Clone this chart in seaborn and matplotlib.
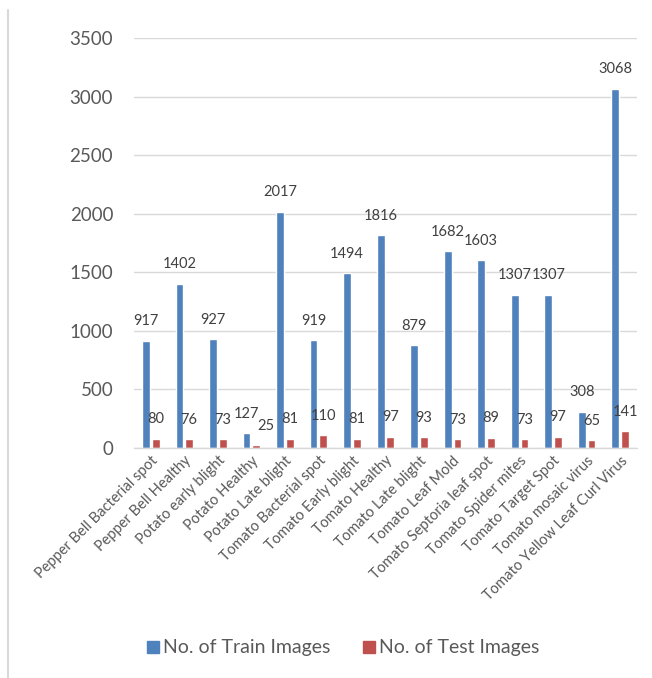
import matplotlib
matplotlib.use("Agg")
import matplotlib.pyplot as plt
import seaborn as sns
import pandas as pd
from matplotlib.lines import Line2D

categories = ["Pepper Bell Bacterial spot", "Pepper Bell Healthy", "Potato early blight",
              "Potato Healthy", "Potato Late blight", "Tomato Bacterial spot",
              "Tomato Early blight", "Tomato Healthy", "Tomato Late blight",
              "Tomato Leaf Mold", "Tomato Septoria leaf spot", "Tomato Spider mites",
              "Tomato Target Spot", "Tomato mosaic virus", "Tomato Yellow Leaf Curl Virus"]
train = [917, 1402, 927, 127, 2017, 919, 1494, 1816, 879, 1682, 1603, 1307, 1307, 308, 3068]
test = [80, 76, 73, 25, 81, 110, 81, 97, 93, 73, 89, 73, 97, 65, 141]
series_names = ["No. of Train Images", "No. of Test Images"]
yticks = [0, 500, 1000, 1500, 2000, 2500, 3000, 3500]

df = pd.DataFrame({
    "cat": categories * 2,
    "val": train + test,
    "series": [series_names[0]] * len(train) + [series_names[1]] * len(test),
})

sns.set_theme(style="white")
plt.rcParams["font.family"] = ["Lato", "DejaVu Sans"]

colors = ["#4F81BD", "#C0504D"]
fig = plt.figure(figsize=(6.52, 6.78), dpi=100)
ax = fig.add_axes([134 / 652, 1 - 448 / 678, (637 - 134) / 652, (448 - 38) / 678])

sns.barplot(data=df, x="cat", y="val", hue="series", palette=colors,
            width=0.58, gap=0.2, ax=ax, legend=False, saturation=1)

ax.set_ylim(0, 3500)
ax.set_yticks(yticks)
ax.set_xlim(-0.5, len(categories) - 0.5)
ax.yaxis.grid(True, color="#D9D9D9", linewidth=1)
ax.set_axisbelow(True)
for s in ["left", "right", "top"]:
    ax.spines[s].set_visible(False)
ax.spines["bottom"].set_color("#D9D9D9")
ax.spines["bottom"].set_linewidth(1)
ax.tick_params(axis="both", length=0)
ax.tick_params(axis="y", labelsize=13.5, labelcolor="#595959", pad=15)
ax.set_xticks(range(len(categories)))
ax.set_xticklabels(categories, rotation=45, ha="right", rotation_mode="anchor",
                   fontsize=10.5, color="#595959")
ax.tick_params(axis="x", pad=4)
ax.set_xlabel("")
ax.set_ylabel("")

for ci, cont in enumerate(ax.containers):
    for bi, bar in enumerate(cont):
        h = bar.get_height()
        dx = 0
        if ci == 1 and bi > 0 and test[bi] < 50:
            dx = 7  # nudge to avoid colliding with neighbouring label
        ax.annotate(f"{int(round(h))}", (bar.get_x() + bar.get_width() / 2, h),
                    xytext=(dx, 14), textcoords="offset points", ha="center",
                    va="center", fontsize=10.5, color="#404040")

handles = [Line2D([], [], marker="s", linestyle="", markersize=8.6,
                  markerfacecolor=c, markeredgecolor=c) for c in colors]
fig.legend(handles, series_names, loc="center", bbox_to_anchor=(342 / 652, 1 - 648 / 678),
           ncol=2, frameon=False, fontsize=14, labelcolor="#595959",
           handletextpad=0.1, columnspacing=1.6, handlelength=0.8)

fig.add_artist(Line2D([8 / 652, 8 / 652], [0, 1 - 10 / 678], transform=fig.transFigure,
                      color="#D9D9D9", linewidth=1.5))

fig.savefig("out.png", dpi=100)
